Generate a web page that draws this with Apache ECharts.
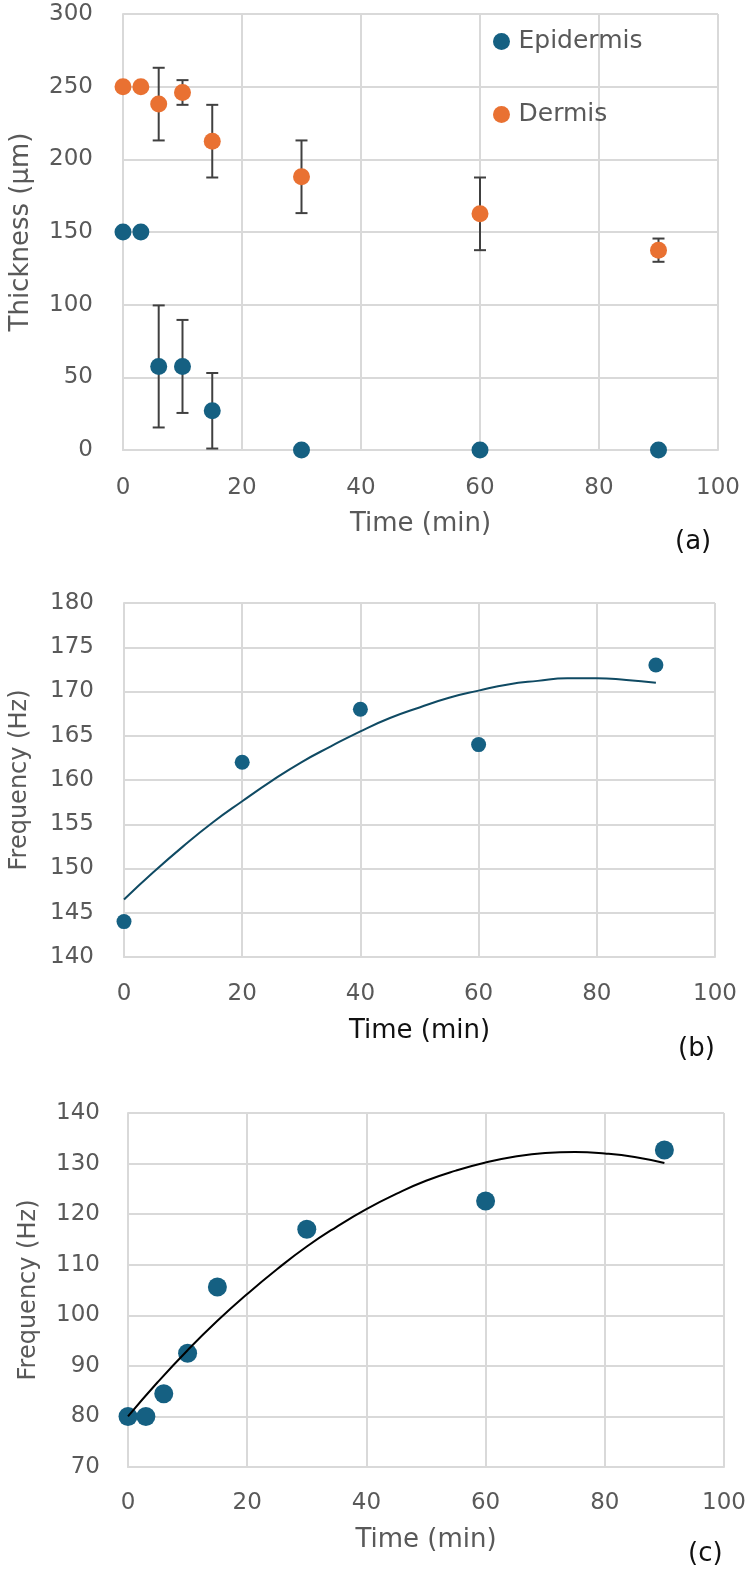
<!DOCTYPE html>
<html>
<head>
<meta charset="utf-8">
<script src="https://cdn.jsdelivr.net/npm/echarts@6/dist/echarts.min.js"></script>
<style>
  html, body { margin: 0; padding: 0; background: #fff; }
  #main { width: 750px; height: 1571px; }
</style>
</head>
<body>
<div id="main"></div>
<script>
// (a) thickness vs time
let timeA = [0, 3, 6, 10, 15, 30, 60, 90];
let dermis = [250, 250, 238, 246, 212.5, 188, 162.5, 137.5];
let dermisErr = [0, 0, 25, 8.5, 25, 25, 25, 8];
let epidermis = [150, 150, 57.5, 57.5, 27, 0, 0, 0];
let epidermisErr = [0, 0, 42, 32, 26, 0, 0, 0];

// (b) frequency, first set
let timeB = [0, 20, 40, 60, 90];
let freqB = [144, 162, 168, 164, 173];
let trendTimeB = [0, 5, 10, 15, 20, 25, 30, 35, 40, 45, 50, 55, 60, 65, 70, 75, 80, 85, 90];
let trendB = [146.5, 149.6, 152.5, 155.2, 157.6, 159.9, 162, 163.8, 165.5, 167, 168.2, 169.3, 170.1, 170.8, 171.2, 171.5, 171.5, 171.3, 171];

// (c) frequency, second set
let timeC = [0, 3, 6, 10, 15, 30, 60, 90];
let freqC = [80, 80, 84.5, 92.5, 105.6, 117, 122.6, 132.7];
let trendTimeC = [0, 5, 10, 15, 20, 25, 30, 35, 40, 45, 50, 55, 60, 65, 70, 75, 80, 85, 90];
let trendC = [80, 86.8, 93.1, 98.9, 104.2, 109.1, 113.6, 117.5, 121, 124, 126.6, 128.6, 130.2, 131.4, 132.1, 132.3, 132, 131.3, 130.1];

let xTicks = [0, 20, 40, 60, 80, 100];

const BLUE = '#156082';
const ORANGE = '#E97132';
const GRID_LINE = '#d9d9d9';
const LABEL = '#595959';
const FONT = 'DejaVu Sans';

function pairs(xs, ys) {
    return xs.map(function (x, i) { return [x, ys[i]]; });
}
function errPairs(xs, ys, es) {
    let out = [];
    xs.forEach(function (x, i) {
        if (es[i] > 0) out.push([x, ys[i] - es[i], ys[i] + es[i]]);
    });
    return out;
}

// error bars: vertical line + caps, placed through the axes
function renderErr(params, api) {
    let top = api.coord([api.value(0), api.value(2)]);
    let bot = api.coord([api.value(0), api.value(1)]);
    let w = 6;
    let st = { stroke: '#404040', lineWidth: 2 };
    return {
        type: 'group',
        children: [
            { type: 'line', shape: { x1: top[0], y1: top[1], x2: bot[0], y2: bot[1] }, style: st },
            { type: 'line', shape: { x1: top[0] - w, y1: top[1], x2: top[0] + w, y2: top[1] }, style: st },
            { type: 'line', shape: { x1: bot[0] - w, y1: bot[1], x2: bot[0] + w, y2: bot[1] }, style: st }
        ]
    };
}

function xAxis(idx, gap, margin, nameColor) {
    return {
        type: 'value', gridIndex: idx, min: 0, max: 100, interval: 20,
        name: 'Time (min)', nameLocation: 'middle', nameGap: gap,
        nameTextStyle: { fontFamily: FONT, fontSize: 26, color: nameColor },
        axisLine: { show: true, lineStyle: { color: GRID_LINE, width: 2 } },
        axisTick: { show: false },
        axisLabel: { margin: margin, fontFamily: FONT, fontSize: 23, color: LABEL,
            customValues: xTicks },
        splitLine: { show: true, lineStyle: { color: GRID_LINE, width: 2 } }
    };
}
function yAxis(idx, name, min, max, interval, gap, nameSize, margin) {
    return {
        type: 'value', gridIndex: idx, min: min, max: max, interval: interval,
        name: name, nameLocation: 'middle', nameGap: gap,
        nameTextStyle: { fontFamily: FONT, fontSize: nameSize, color: LABEL },
        axisLine: { show: true, lineStyle: { color: GRID_LINE, width: 2 } },
        axisTick: { show: false },
        axisLabel: { margin: margin, fontFamily: FONT, fontSize: 23, color: LABEL },
        splitLine: { show: true, lineStyle: { color: GRID_LINE, width: 2 } }
    };
}

let chart = echarts.init(document.getElementById('main'), null, { renderer: 'canvas' });

let panelText = { fontFamily: FONT, fontSize: 26, fontWeight: 'normal', color: '#111' };

let option = {
    backgroundColor: '#fff',
    animation: false,
    title: [
        { text: '(a)', left: 675, top: 529, padding: 0, textStyle: panelText },
        { text: '(b)', left: 678, top: 1036, padding: 0, textStyle: panelText },
        { text: '(c)', left: 688, top: 1541, padding: 0, textStyle: panelText }
    ],
    legend: {
        orient: 'vertical', left: 493, top: 29, itemGap: 48, padding: 0,
        icon: 'circle', itemWidth: 24, itemHeight: 17,
        textStyle: { fontFamily: FONT, fontSize: 25, color: LABEL },
        data: ['Epidermis', 'Dermis']
    },
    grid: [
        { left: 120, top: 14, width: 598, height: 436 },
        { left: 123, top: 603, width: 592, height: 354 },
        { left: 128, top: 1113, width: 596, height: 354 }
    ],
    xAxis: [
        xAxis(0, 61, 27, LABEL),
        xAxis(1, 61, 26, '#111'),
        xAxis(2, 60, 25, LABEL)
    ],
    yAxis: [
        yAxis(0, 'Thickness (µm)', 0, 300, 50, 89, 26, 30),
        yAxis(1, 'Frequency (Hz)', 140, 180, 5, 92, 24, 30),
        yAxis(2, 'Frequency (Hz)', 70, 140, 10, 87, 24, 28)
    ],
    series: [
        { name: 'errD', type: 'custom', xAxisIndex: 0, yAxisIndex: 0, renderItem: renderErr,
          data: errPairs(timeA, dermis, dermisErr), z: 1 },
        { name: 'errE', type: 'custom', xAxisIndex: 0, yAxisIndex: 0, renderItem: renderErr,
          data: errPairs(timeA, epidermis, epidermisErr), z: 1 },
        { name: 'Epidermis', type: 'scatter', xAxisIndex: 0, yAxisIndex: 0, symbolSize: 17,
          itemStyle: { color: BLUE, opacity: 1 }, data: pairs(timeA, epidermis), z: 3 },
        { name: 'Dermis', type: 'scatter', xAxisIndex: 0, yAxisIndex: 0, symbolSize: 17,
          itemStyle: { color: ORANGE, opacity: 1 }, data: pairs(timeA, dermis), z: 3 },

        { name: 'freqB', type: 'scatter', xAxisIndex: 1, yAxisIndex: 1, symbolSize: 15,
          itemStyle: { color: BLUE, opacity: 1 }, data: pairs(timeB, freqB), z: 2 },
        { name: 'trendB', type: 'line', xAxisIndex: 1, yAxisIndex: 1, smooth: true, showSymbol: false,
          lineStyle: { color: '#0f4a63', width: 2 }, data: pairs(trendTimeB, trendB), z: 3 },

        { name: 'freqC', type: 'scatter', xAxisIndex: 2, yAxisIndex: 2, symbolSize: 19,
          itemStyle: { color: BLUE, opacity: 1 }, data: pairs(timeC, freqC), z: 2 },
        { name: 'trendC', type: 'line', xAxisIndex: 2, yAxisIndex: 2, smooth: true, showSymbol: false,
          lineStyle: { color: '#000', width: 2 }, data: pairs(trendTimeC, trendC), z: 3 }
    ]
};

chart.setOption(option);
</script>
</body>
</html>
